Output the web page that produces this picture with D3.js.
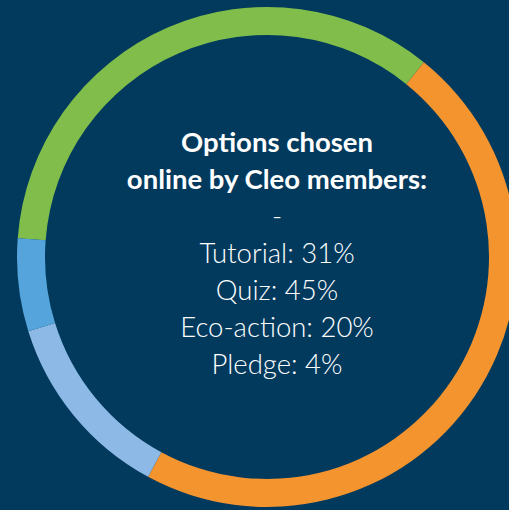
<!DOCTYPE html>
<html lang="en">
	<head>
		<meta charset="utf-8">
		<title>Options chosen online by Cleo members</title>
		<script type="text/javascript" src="https://cdn.jsdelivr.net/npm/d3@7"></script>
		<style type="text/css">
			body{
				margin: 0;
				background-color: #023a5e;
			}
			.title{
				font-family: Lato, "Open Sans", sans-serif;
				font-weight: bold;
				font-size: 27.5px;
				fill: white;
			}
			.line{
				font-family: Lato, "Open Sans", sans-serif;
				font-weight: 300;
				font-size: 27.5px;
				fill: white;
			}
		</style>
	</head>
	<body>
		<div class="chart"></div>
		<script type="text/javascript">

			// segments, clockwise from the left edge of the ring
			var segmentNames = ["Tutorial", "Quiz", "Eco-action", "Pledge"];
			// shares of the ring as drawn in the picture (percent)
			var arcShares = [34.6, 47.1, 12.3, 6.0];
			// values printed in the middle
			var labelValues = [31, 45, 20, 4];
			var segmentColors = ["#80bd4a", "#f3942f", "#8cb9e5", "#56a4dc"];
			var titleLines = ["Options chosen", "online by Cleo members:"];

			var w = 509;
			var h = 510;

			var cx = 267;
			var cy = 257;
			var outerR = 250;
			var innerR = 222;
			var startDeg = -85.7;

			var svg = d3.select("div.chart")
						.append("svg")
						.attr("width", w)
						.attr("height", h);

			svg.append("rect")
				.attr("width", w)
				.attr("height", h)
				.attr("fill", "#023a5e");

			var pie = d3.pie()
						.sort(null)
						.value((d)=> d.share)
						.startAngle(startDeg * Math.PI / 180)
						.endAngle(startDeg * Math.PI / 180 + 2 * Math.PI);

			var arc = d3.arc()
						.innerRadius(innerR)
						.outerRadius(outerR);

			var color = d3.scaleOrdinal()
						.domain(segmentNames)
						.range(segmentColors);

			var rows = segmentNames.map(function(n, i){
				return {name: n, share: arcShares[i], value: labelValues[i]};
			});

			var ring = svg.append("g")
						.attr("transform", "translate(" + cx + "," + cy + ")");

			ring.selectAll("path")
				.data(pie(rows))
				.enter()
				.append("path")
				.attr("d", arc)
				.attr("fill", (d)=> color(d.data.name));

			var tx = 277;
			var firstBase = 152;
			var step = 37;

			var text = svg.append("g");

			text.selectAll("text.title")
				.data(titleLines)
				.enter()
				.append("text")
				.attr("class", "title")
				.attr("text-anchor", "middle")
				.attr("x", tx)
				.attr("y", (d,i)=> firstBase + i * step)
				.text((d)=> d);

			text.append("text")
				.attr("class", "line")
				.attr("text-anchor", "middle")
				.attr("x", tx)
				.attr("y", firstBase + 2 * step)
				.text("-");

			text.selectAll("text.value")
				.data(rows)
				.enter()
				.append("text")
				.attr("class", "line value")
				.attr("text-anchor", "middle")
				.attr("x", tx)
				.attr("y", (d,i)=> firstBase + (3 + i) * step)
				.text((d)=> d.name + ": " + d.value + "%");

		</script>
	</body>
</html>
